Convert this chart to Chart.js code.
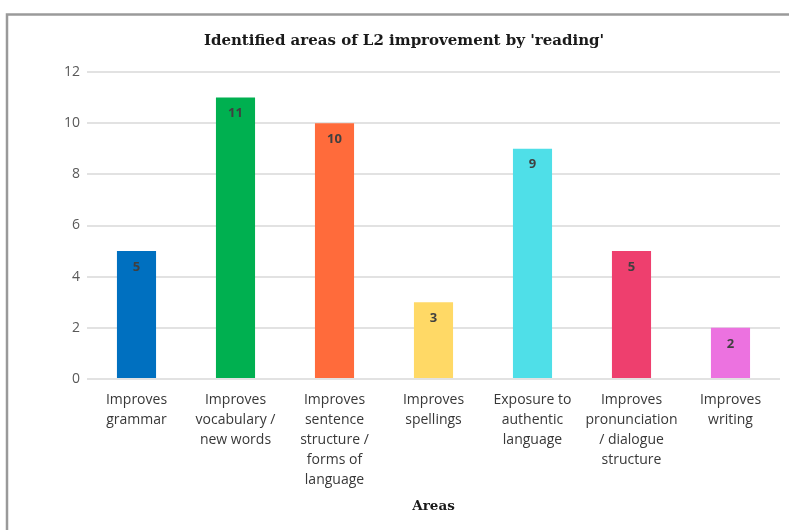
<!DOCTYPE html>
<html>
<head>
<meta charset="utf-8">
<script src="https://cdn.jsdelivr.net/npm/chart.js@4.4.1/dist/chart.umd.min.js"></script>
<style>
  html, body { margin: 0; padding: 0; background: #ffffff; }
  #wrap { position: relative; width: 789px; height: 530px; overflow: hidden; }
  canvas { display: block; }
</style>
</head>
<body>
<div id="wrap"><canvas id="c" width="789" height="530"></canvas></div>
<script>
const categories = [
  ["Improves", "grammar"],
  ["Improves", "vocabulary /", "new words"],
  ["Improves", "sentence", "structure /", "forms of", "language"],
  ["Improves", "spellings"],
  ["Exposure to", "authentic", "language"],
  ["Improves", "pronunciation", "/ dialogue", "structure"],
  ["Improves", "writing"]
];
const values = [5, 11, 10, 3, 9, 5, 2];
const barColors = ["#0070C0", "#00B050", "#FF6B3B", "#FFD966", "#4FDFE8", "#EE3F6E", "#EC72E0"];
const yMin = 0, yMax = 12, yStep = 2;
const titleText = "Identified areas of L2 improvement by 'reading'";
const xTitleText = "Areas";

const SANS = "'Open Sans', 'Liberation Sans', sans-serif";
const SERIF = "'DejaVu Serif', 'Liberation Serif', serif";

const framePlugin = {
  id: 'frame',
  beforeDraw(chart) {
    const ctx = chart.ctx;
    ctx.save();
    ctx.fillStyle = '#ffffff';
    ctx.fillRect(0, 0, chart.width, chart.height);
    ctx.strokeStyle = '#9a9a9a';
    ctx.lineWidth = 2.5;
    ctx.strokeRect(7, 14.5, chart.width + 20, chart.height + 20);
    ctx.restore();
  },
  afterDraw(chart) {
    const ctx = chart.ctx;
    ctx.save();
    ctx.font = "bold 15px " + SERIF;
    ctx.fillStyle = '#1a1a1a';
    ctx.textAlign = 'center';
    ctx.textBaseline = 'alphabetic';
    ctx.fillText(titleText, 404, 45);
    ctx.restore();
  }
};

const valueLabelPlugin = {
  id: 'valueLabels',
  afterDatasetsDraw(chart) {
    const ctx = chart.ctx;
    const meta = chart.getDatasetMeta(0);
    ctx.save();
    ctx.font = "bold 13px " + SANS;
    ctx.fillStyle = '#404040';
    ctx.textAlign = 'center';
    ctx.textBaseline = 'middle';
    meta.data.forEach((bar, i) => {
      ctx.fillText(String(chart.data.datasets[0].data[i]), bar.x, bar.y + 16);
    });
    ctx.restore();
  }
};

new Chart(document.getElementById('c'), {
  type: 'bar',
  data: {
    labels: categories,
    datasets: [{
      data: values,
      backgroundColor: barColors,
      borderWidth: 0,
      categoryPercentage: 1,
      barPercentage: 0.395
    }]
  },
  options: {
    responsive: false,
    animation: false,
    devicePixelRatio: 1,
    layout: { padding: { left: 0, right: 9, top: 72, bottom: 0 } },
    plugins: {
      legend: { display: false },
      tooltip: { enabled: false },
      title: { display: false }
    },
    scales: {
      x: {
        grid: { display: false, drawTicks: false },
        border: { display: false },
        ticks: {
          color: '#383838',
          font: { family: SANS, size: 14, lineHeight: 20 / 14 },
          padding: 11,
          maxRotation: 0,
          autoSkip: false
        },
        title: {
          display: true,
          text: xTitleText,
          color: '#1a1a1a',
          font: { family: SERIF, size: 13.5, weight: 'bold', lineHeight: 1.2 },
          padding: { top: 0, bottom: 15 }
        },
        afterFit(scale) { scale.height = 151; }
      },
      y: {
        min: yMin,
        max: yMax,
        grid: { color: '#e2e2e2', lineWidth: 2, drawTicks: false },
        border: { display: false },
        ticks: {
          stepSize: yStep,
          color: '#595959',
          font: { family: SANS, size: 14 },
          padding: 7
        },
        afterFit(scale) { scale.width = 87; }
      }
    }
  },
  plugins: [framePlugin, valueLabelPlugin]
});
</script>
</body>
</html>
